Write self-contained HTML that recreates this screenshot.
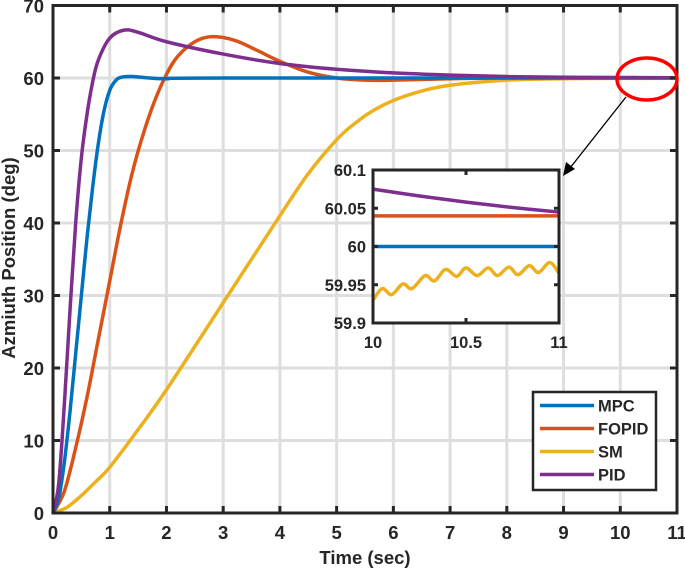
<!DOCTYPE html>
<html><head><meta charset="utf-8"><style>
html,body{margin:0;padding:0;background:#fff;}
svg text{font-family:"Liberation Sans",Arial,sans-serif;font-weight:bold;fill:#262626;}
</style></head><body>
<svg id="chart" width="685" height="571" viewBox="0 0 685 571" xmlns="http://www.w3.org/2000/svg">
<g id="main"></g>
</svg>
<script>
const xTicks=[0,1,2,3,4,5,6,7,8,9,10,11];
const yTicks=[0,10,20,30,40,50,60,70];
const mpcT=[0,0.1,0.2,0.3,0.4,0.5,0.6,0.7,0.8,0.9,1.0,1.1,1.2,1.4,1.7,2,3,11];
const mpcV=[0,2,7,14,22,30,38,45,51,55.5,58.3,59.6,60.1,60.2,60,59.9,60,60];
const fopidT=[0,0.2,0.4,0.6,0.8,1.0,1.2,1.4,1.6,1.8,2.0,2.2,2.5,2.8,3.2,3.6,4,4.5,5,5.5,6,7,8,11];
const fopidV=[0,3,9,16,24,32,40,47,52.5,57,60.5,63,65,65.7,65.2,63.8,62.3,60.8,60,59.7,59.7,59.9,60,60.04];
const smT=[0,0.25,0.5,0.75,1,1.5,2,3,4,4.5,5,5.3,5.6,6,6.5,7,8,9,10,11];
const smV=[0,0.8,2.4,4.3,6.3,11.5,17,29,41,46.8,51.5,53.6,55.3,56.9,58.2,59,59.7,59.9,59.95,59.96];
const pidT=[0,0.1,0.2,0.3,0.4,0.5,0.6,0.7,0.8,1.0,1.25,1.5,2,3,4,5,6,7,8,9,10,11];
const pidV=[0,4,15,28,40,49,55,59.5,62.5,65.5,66.6,66.3,65,63.3,62,61.2,60.7,60.4,60.2,60.1,60.07,60.04];
const insetXTicks=[10,10.5,11];
const insetYTicks=[59.9,59.95,60,60.05,60.1];
const insetMpcT=[10,11], insetMpcV=[60,60];
const insetFopidT=[10,11], insetFopidV=[60.04,60.04];
const insetPidT=[10,10.25,10.5,10.75,11], insetPidV=[60.075,60.066,60.058,60.051,60.045];
const insetSmT=[10,10.05,10.1,10.16,10.21,10.28,10.33,10.39,10.45,10.5,10.56,10.62,10.67,10.73,10.78,10.84,10.89,10.95,11];
const insetSmV=[59.93,59.945,59.937,59.951,59.945,59.962,59.955,59.97,59.961,59.972,59.962,59.972,59.962,59.973,59.963,59.975,59.966,59.979,59.965];
const legendNames=["MPC","FOPID","SM","PID"];
const colors=["#0072BD","#D95319","#EDB120","#7E2F8E"];

const NS="http://www.w3.org/2000/svg";
const root=document.getElementById('main');
function mk(tag,attrs,parent){const e=document.createElementNS(NS,tag);for(const k in attrs)e.setAttribute(k,attrs[k]);(parent||root).appendChild(e);return e;}
const X0=53,X1=677,Y0=513,Y1=5.5;
const sx=t=>X0+(t-0)/11*(X1-X0), sy=v=>Y0-(v/70)*(Y0-Y1);
const IX0=373,IX1=559,IY0=323,IY1=170;
const isx=t=>IX0+(t-10)*(IX1-IX0), isy=v=>IY0-(v-59.9)/0.2*(IY0-IY1);
function spline(T,V,fx,fy){
  const p=T.map((t,i)=>[fx(t),fy(V[i])]);
  let d="M"+p[0][0].toFixed(2)+","+p[0][1].toFixed(2);
  for(let i=0;i<p.length-1;i++){
    const a=p[Math.max(i-1,0)],b=p[i],c=p[i+1],e=p[Math.min(i+2,p.length-1)];
    const c1=[b[0]+(c[0]-a[0])/6,b[1]+(c[1]-a[1])/6],c2=[c[0]-(e[0]-b[0])/6,c[1]-(e[1]-b[1])/6];
    d+=` C${c1[0].toFixed(2)},${c1[1].toFixed(2)} ${c2[0].toFixed(2)},${c2[1].toFixed(2)} ${c[0].toFixed(2)},${c[1].toFixed(2)}`;
  }
  return d;
}
xTicks.forEach(t=>{const l=mk('line',{x1:sx(t),x2:sx(t),y1:Y1,y2:Y0,stroke:'#dedede','stroke-width':3});

});
yTicks.forEach(v=>{const l=mk('line',{x1:X0,x2:X1,y1:sy(v),y2:sy(v),stroke:'#dedede','stroke-width':3});

});
const mainSeries=[[mpcT,mpcV],[fopidT,fopidV],[smT,smV],[pidT,pidV]];
[2,1,0,3].forEach(i=>{const p=mk('path',{d:spline(mainSeries[i][0],mainSeries[i][1],sx,sy),fill:'none',stroke:colors[i],'stroke-width':3.5});

});
const ax=mk('rect',{x:X0,y:Y1,width:X1-X0,height:Y0-Y1,fill:'none',stroke:'#262626','stroke-width':3});


xTicks.forEach(t=>{mk('line',{x1:sx(t),x2:sx(t),y1:Y0,y2:Y0-7,stroke:'#262626','stroke-width':3});mk('line',{x1:sx(t),x2:sx(t),y1:Y1,y2:Y1+7,stroke:'#262626','stroke-width':3});
const tx=mk('text',{x:sx(t),y:Y0+26,'text-anchor':'middle','font-size':18.5});tx.textContent=t;

});
yTicks.forEach(v=>{mk('line',{x1:X0,x2:X0+7,y1:sy(v),y2:sy(v),stroke:'#262626','stroke-width':3});mk('line',{x1:X1,x2:X1-7,y1:sy(v),y2:sy(v),stroke:'#262626','stroke-width':3});
const tx=mk('text',{x:X0-9,y:sy(v)+7,'text-anchor':'end','font-size':18.5});tx.textContent=v;

});
const xl=mk('text',{x:365,y:564,'text-anchor':'middle','font-size':18.5});xl.textContent='Time (sec)';


const yl=mk('text',{x:0,y:0,'text-anchor':'middle','font-size':18.5,transform:'translate(15,258) rotate(-90)'});yl.textContent='Azmiuth Position (deg)';


const el=mk('ellipse',{cx:647,cy:79,rx:30,ry:21,fill:'none',stroke:'#ff0000','stroke-width':3.5});


mk('line',{x1:626,y1:97,x2:570,y2:168,stroke:'#000','stroke-width':1.3});
const ah=mk('polygon',{points:'563,176 566,162 575,169',fill:'#000'});


const ib=mk('rect',{x:IX0,y:IY1,width:IX1-IX0,height:IY0-IY1,fill:'#fff'});


const insetSeries=[[insetMpcT,insetMpcV],[insetFopidT,insetFopidV],[insetSmT,insetSmV],[insetPidT,insetPidV]];
[0,1,2,3].forEach(i=>{const p=mk('path',{d:spline(insetSeries[i][0],insetSeries[i][1],isx,isy),fill:'none',stroke:colors[i],'stroke-width':3.5});

});
const ia=mk('rect',{x:IX0,y:IY1,width:IX1-IX0,height:IY0-IY1,fill:'none',stroke:'#262626','stroke-width':3});


insetXTicks.forEach(t=>{mk('line',{x1:isx(t),x2:isx(t),y1:IY0,y2:IY0-5,stroke:'#262626','stroke-width':3});mk('line',{x1:isx(t),x2:isx(t),y1:IY1,y2:IY1+5,stroke:'#262626','stroke-width':3});
const tx=mk('text',{x:isx(t),y:IY0+25,'text-anchor':'middle','font-size':16.5});tx.textContent=t;

});
insetYTicks.forEach(v=>{mk('line',{x1:IX0,x2:IX0+5,y1:isy(v),y2:isy(v),stroke:'#262626','stroke-width':3});mk('line',{x1:IX1,x2:IX1-5,y1:isy(v),y2:isy(v),stroke:'#262626','stroke-width':3});
const tx=mk('text',{x:IX0-7,y:isy(v)+6,'text-anchor':'end','font-size':16.5});tx.textContent=v;

});
const lg=mk('rect',{x:533,y:392,width:123,height:98,fill:'#fff',stroke:'#262626','stroke-width':2.5});


legendNames.forEach((n,i)=>{const y=405.5+i*23;
const ln=mk('line',{x1:540,x2:594,y1:y,y2:y,stroke:colors[i],'stroke-width':3.5});


const tx=mk('text',{x:598,y:y+6,'font-size':16.5});tx.textContent=n;

});
</script>
</body></html>
